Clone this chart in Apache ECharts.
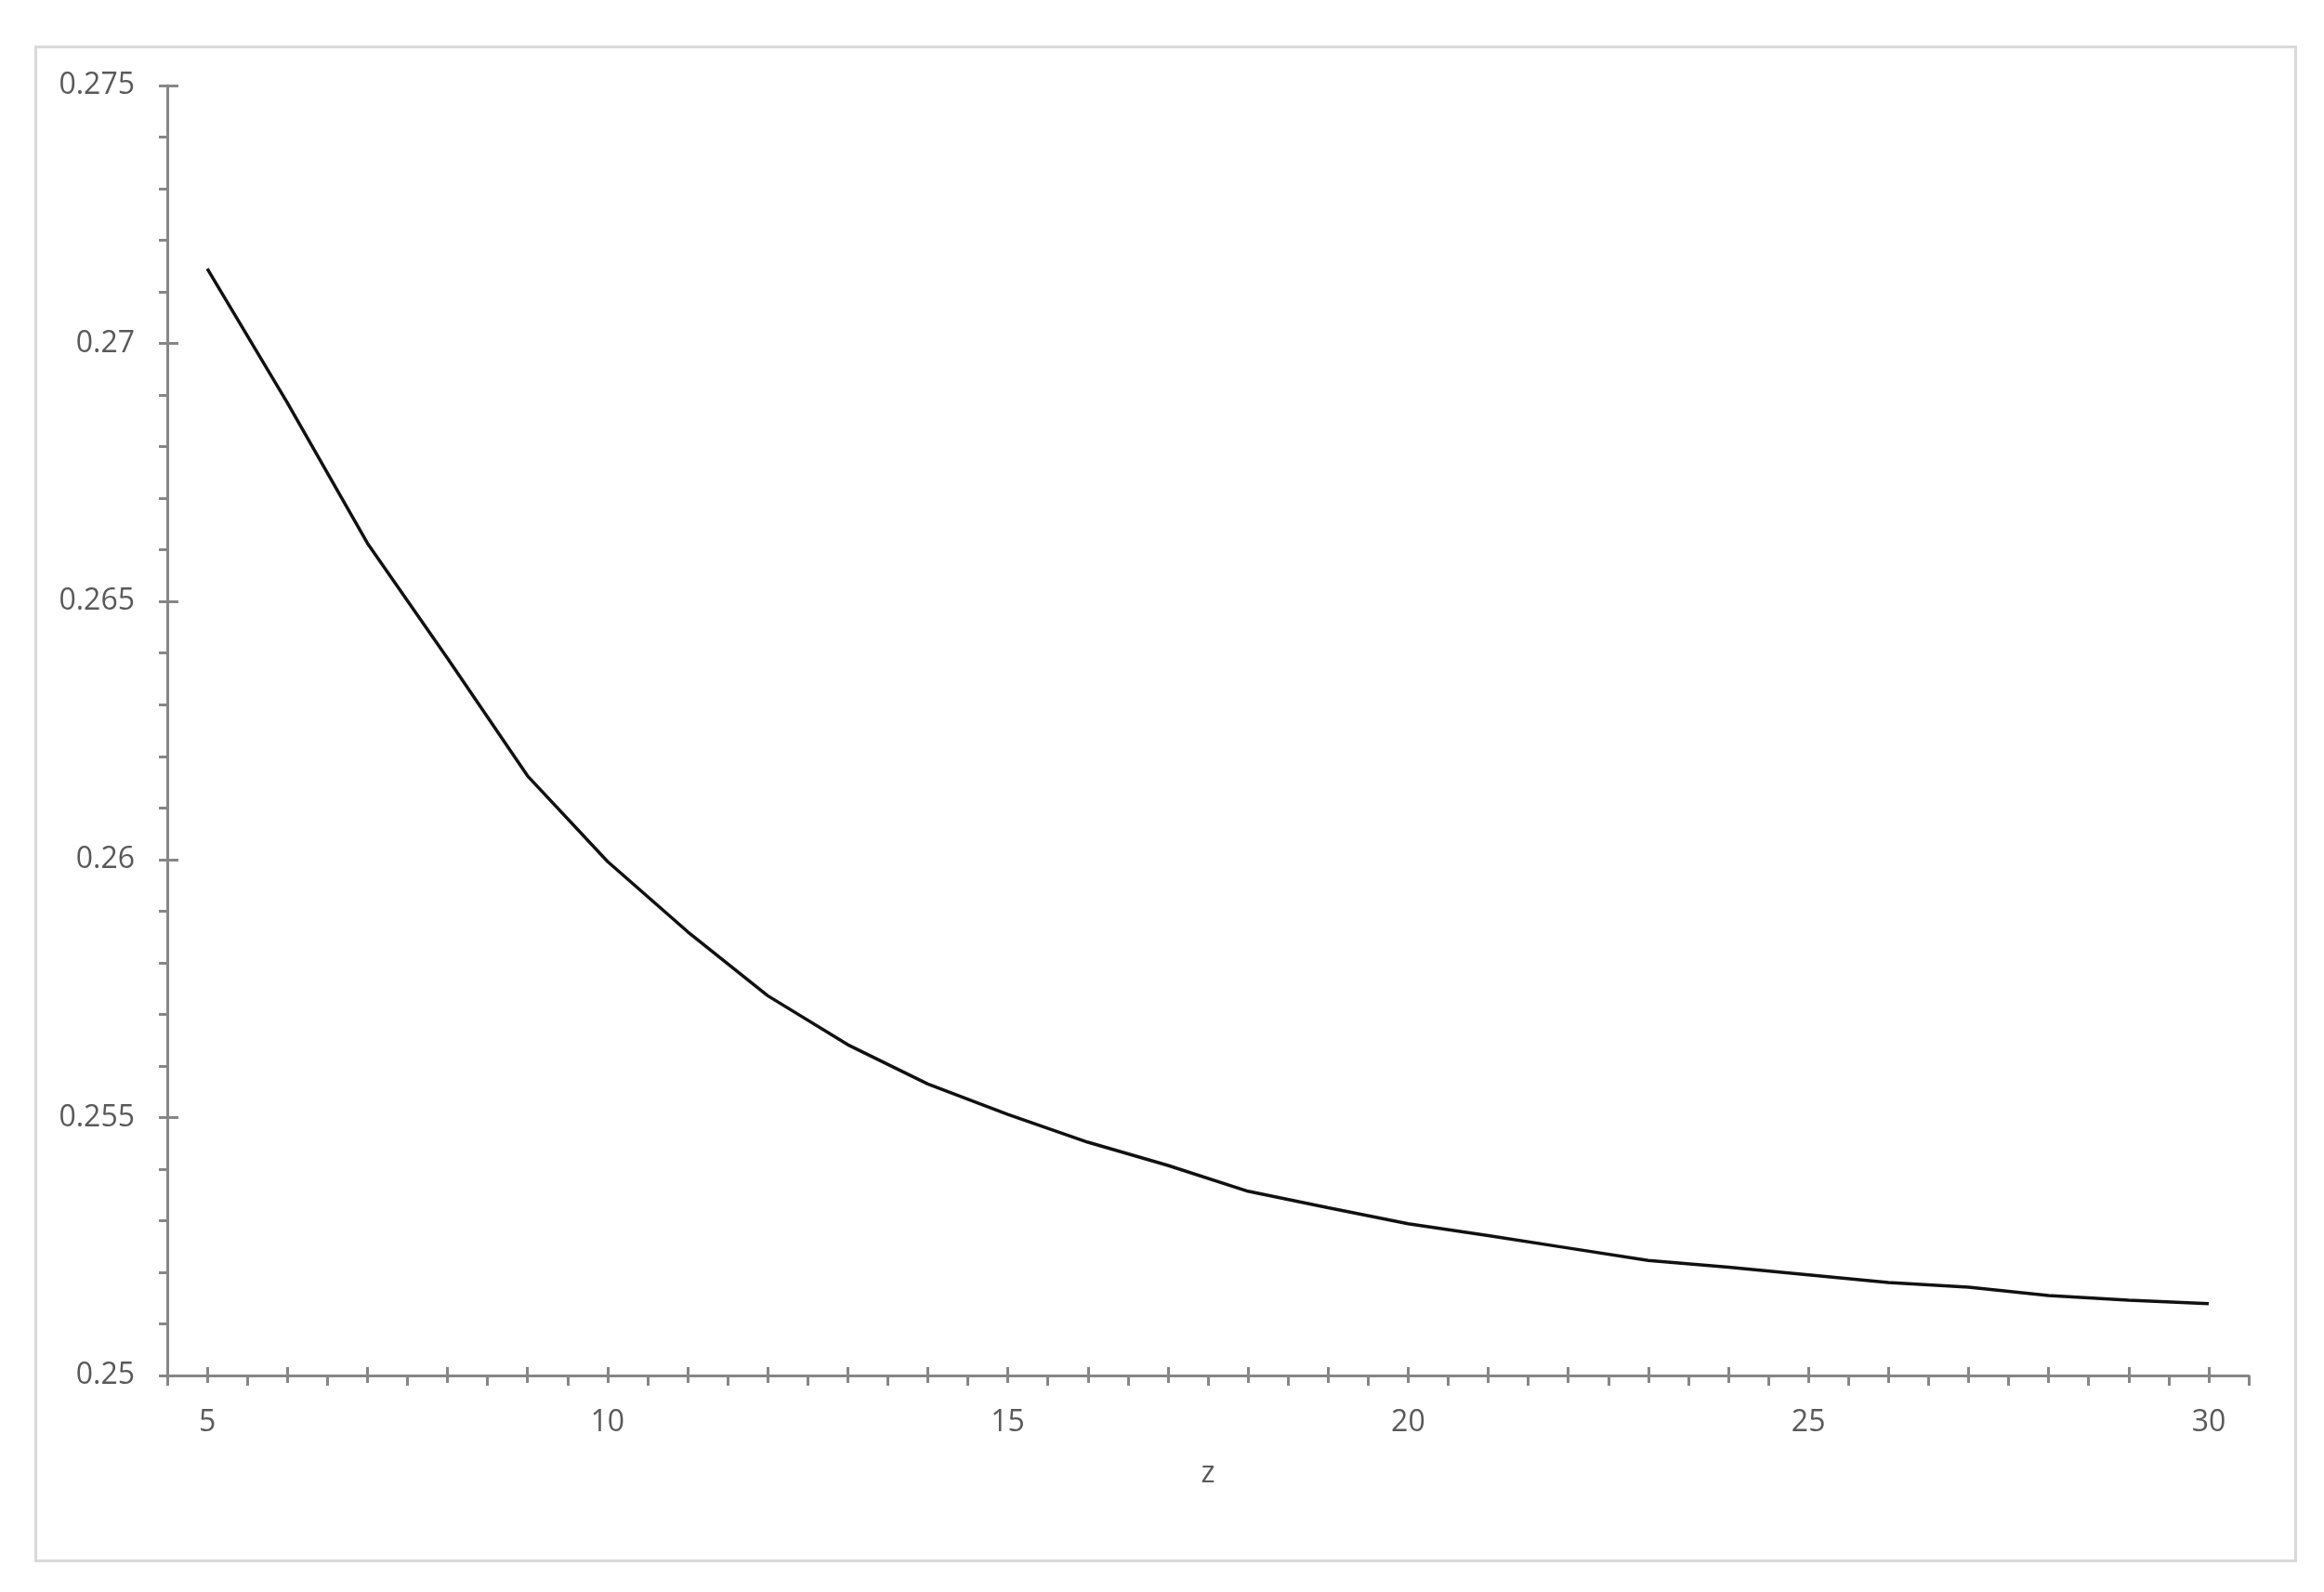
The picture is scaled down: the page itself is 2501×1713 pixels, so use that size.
<!DOCTYPE html>
<html>
<head>
<meta charset="utf-8">
<title>z chart</title>
<script src="https://cdn.jsdelivr.net/npm/echarts@6/dist/echarts.min.js"></script>
<style>
  html, body { margin: 0; padding: 0; background: #ffffff; }
  #main { width: 2501px; height: 1713px; }
</style>
</head>
<body>
<div id="main"></div>
<script>
// z values on the x axis (category)
var zValues = ['5', '6', '7', '8', '9', '10', '11', '12', '13', '14', '15', '16', '17',
  '18', '19', '20', '21', '22', '23', '24', '25', '26', '27', '28', '29', '30'];

// curve values
var curveValues = [0.27145, 0.26885, 0.26613, 0.26390, 0.26162, 0.25996, 0.25860, 0.25736,
  0.25641, 0.25565, 0.25506, 0.25452, 0.25407, 0.25357, 0.25325, 0.25294, 0.25271,
  0.25247, 0.25223, 0.25210, 0.25195, 0.25180, 0.25171, 0.25155, 0.25146, 0.25139];

// y axis range and step
var yMin = 0.25;
var yMax = 0.275;
var yStep = 0.005;

var axisGrey = '#868686';
var textGrey = '#595959';
var fontName = 'Open Sans';

var chart = echarts.init(document.getElementById('main'), null, {
  renderer: 'canvas',
  devicePixelRatio: 1
});

var option = {
  backgroundColor: '#ffffff',
  animation: false,
  textStyle: { fontFamily: fontName },
  graphic: [{
    // light frame around the chart area
    type: 'rect',
    left: 36,
    top: 48,
    silent: true,
    z: -1,
    shape: { width: 2432, height: 1629 },
    style: { fill: 'none', stroke: '#d9d9d9', lineWidth: 3 }
  }],
  grid: {
    left: 180,
    right: 81,
    top: 92,
    bottom: 233,
    containLabel: false
  },
  xAxis: [{
    // main axis: line, labels, boundary ticks below
    type: 'category',
    position: 'bottom',
    data: zValues,
    boundaryGap: true,
    name: 'z',
    nameLocation: 'middle',
    nameGap: 90,
    nameTextStyle: { color: textGrey, fontSize: 32, fontFamily: fontName },
    axisLine: { show: true, lineStyle: { color: axisGrey, width: 3 } },
    axisTick: { show: true, interval: 0, length: 11, lineStyle: { color: axisGrey, width: 3 } },
    axisLabel: { interval: 4, margin: 35, color: textGrey, fontSize: 32, fontFamily: fontName },
    splitLine: { show: false }
  }, {
    // ticks at the category centres, upper half
    type: 'category',
    position: 'bottom',
    data: zValues,
    boundaryGap: true,
    axisLine: { show: false },
    axisTick: { show: true, inside: true, alignWithLabel: true, interval: 0, length: 9, lineStyle: { color: axisGrey, width: 3 } },
    axisLabel: { show: false },
    splitLine: { show: false }
  }, {
    // ticks at the category centres, lower half
    type: 'category',
    position: 'bottom',
    data: zValues,
    boundaryGap: true,
    axisLine: { show: false },
    axisTick: { show: true, inside: false, alignWithLabel: true, interval: 0, length: 8, lineStyle: { color: axisGrey, width: 3 } },
    axisLabel: { show: false },
    splitLine: { show: false }
  }],
  yAxis: [{
    type: 'value',
    position: 'left',
    min: yMin,
    max: yMax,
    interval: yStep,
    axisLine: { show: true, lineStyle: { color: axisGrey, width: 3 } },
    axisTick: { show: true, length: 9, lineStyle: { color: axisGrey, width: 3 } },
    minorTick: { show: true, splitNumber: 5, length: 9, lineStyle: { color: axisGrey, width: 3 } },
    axisLabel: { margin: 35, color: textGrey, fontSize: 32, fontFamily: fontName },
    splitLine: { show: false },
    minorSplitLine: { show: false }
  }, {
    // inner half of the major ticks
    type: 'value',
    position: 'left',
    min: yMin,
    max: yMax,
    interval: yStep,
    axisLine: { show: false },
    axisTick: { show: true, inside: true, length: 12, lineStyle: { color: axisGrey, width: 3 } },
    axisLabel: { show: false },
    splitLine: { show: false }
  }],
  series: [{
    type: 'line',
    xAxisIndex: 0,
    yAxisIndex: 0,
    data: curveValues,
    showSymbol: false,
    symbol: 'none',
    smooth: false,
    lineStyle: { color: '#111111', width: 3.5 }
  }]
};

chart.setOption(option);
</script>
</body>
</html>
